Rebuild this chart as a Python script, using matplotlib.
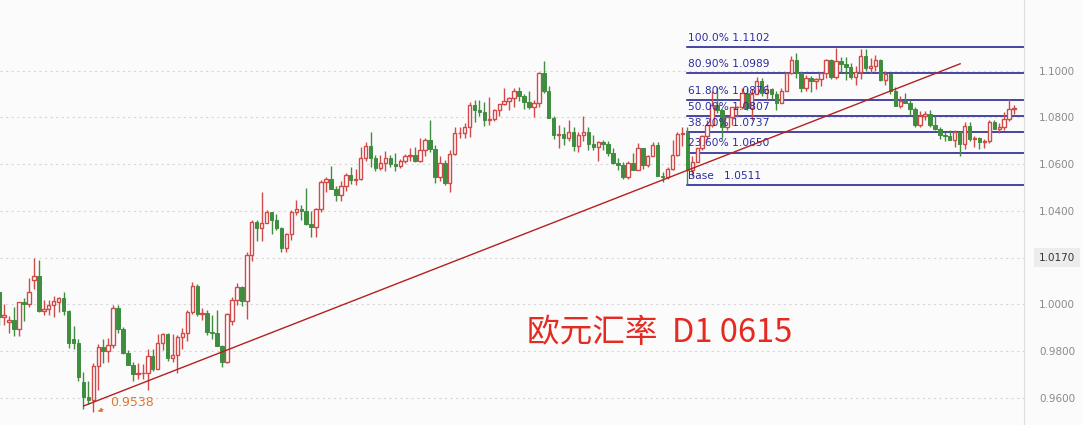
import matplotlib
matplotlib.use("Agg")
import matplotlib.pyplot as plt
from matplotlib.patches import Rectangle

# EUR/USD daily candles, 2022-09-01 .. 2023-06-15
months = ["Sep", "Oct", "Nov", "Dec", "Jan", "Feb", "Mar", "Apr", "May", "Jun"]

opens = [
    # Sep
    1.0054, 0.9944, 0.9925, 0.9932, 0.9896, 1.0010, 1.0001, 1.0105, 1.0122, 0.9970, 0.9980,
    0.9999, 1.0010, 1.0025, 0.9970, 0.9850, 0.9836, 0.9669, 0.9604, 0.9590, 0.9736, 0.9815,
    # Oct
    0.9800, 0.9826, 0.9985, 0.9893, 0.9793, 0.9742, 0.9700, 0.9705, 0.9705, 0.9779, 0.9723,
    0.9836, 0.9874, 0.9772, 0.9784, 0.9859, 0.9875, 0.9965, 1.0079, 0.9960, 0.9964,
    # Nov
    0.9881, 0.9879, 0.9820, 0.9751, 0.9930, 1.0020, 1.0073, 1.0015, 1.0211, 1.0354, 1.0325,
    1.0350, 1.0394, 1.0363, 1.0325, 1.0242, 1.0302, 1.0397, 1.0408, 1.0399, 1.0343, 1.0331,
    # Dec
    1.0406, 1.0523, 1.0535, 1.0493, 1.0466, 1.0507, 1.0554, 1.0531, 1.0537, 1.0628, 1.0680,
    1.0627, 1.0584, 1.0606, 1.0625, 1.0602, 1.0594, 1.0612, 1.0636, 1.0638, 1.0612, 1.0662,
    # Jan
    1.0705, 1.0665, 1.0547, 1.0606, 1.0519, 1.0644, 1.0733, 1.0734, 1.0761, 1.0852, 1.0830,
    1.0822, 1.0790, 1.0795, 1.0831, 1.0856, 1.0870, 1.0885, 1.0915, 1.0890, 1.0867, 1.0847,
    # Feb
    1.0863, 1.0990, 1.0915, 1.0799, 1.0726, 1.0729, 1.0712, 1.0740, 1.0679, 1.0724, 1.0740,
    1.0687, 1.0674, 1.0695, 1.0686, 1.0650, 1.0605, 1.0595, 1.0546, 1.0606,
    # Mar
    1.0575, 1.0668, 1.0596, 1.0635, 1.0682, 1.0548, 1.0546, 1.0580, 1.0640, 1.0730, 1.0733,
    1.0577, 1.0610, 1.0670, 1.0720, 1.0770, 1.0855, 1.0830, 1.0760, 1.0800, 1.0843, 1.0843,
    1.0905,
    # Apr
    1.0839, 1.0902, 1.0955, 1.0903, 1.0920, 1.0900, 1.0860, 1.0915, 1.0990, 1.1045, 1.0990,
    1.0925, 1.0970, 1.0955, 1.0965, 1.0990, 1.1047, 1.0973, 1.1040, 1.1030,
    # May
    1.1018, 1.0975, 1.0997, 1.1063, 1.1014, 1.1020, 1.1045, 1.0962, 1.0985, 1.0913, 1.0850,
    1.0872, 1.0862, 1.0838, 1.0768, 1.0805, 1.0813, 1.0770, 1.0750, 1.0725, 1.0720, 1.0705,
    1.0736,
    # Jun
    1.0688, 1.0763, 1.0709, 1.0713, 1.0693, 1.0699, 1.0781, 1.0750, 1.0760, 1.0795, 1.0835,
]

highs = [
    1.0057, 1.0000, 0.9950, 0.9988, 1.0011, 1.0029, 1.0112, 1.0198, 1.0190, 1.0019, 1.0017,
    1.0036, 1.0030, 1.0051, 0.9977, 0.9906, 0.9852, 0.9711, 0.9670, 0.9750, 0.9830, 0.9853,
    0.9854, 0.9999, 0.9998, 0.9904, 0.9806, 0.9753, 0.9750, 0.9745, 0.9809, 0.9807, 0.9872,
    0.9876, 0.9875, 0.9873, 0.9870, 0.9900, 0.9977, 1.0094, 1.0088, 0.9983, 0.9976,
    0.9953, 0.9975, 0.9825, 0.9964, 1.0033, 1.0093, 1.0079, 1.0223, 1.0363, 1.0362, 1.0481,
    1.0405, 1.0395, 1.0388, 1.0330, 1.0307, 1.0404, 1.0448, 1.0427, 1.0497, 1.0399, 1.0414,
    1.0531, 1.0545, 1.0594, 1.0506, 1.0530, 1.0564, 1.0590, 1.0580, 1.0673, 1.0695, 1.0736,
    1.0640, 1.0640, 1.0658, 1.0638, 1.0650, 1.0622, 1.0643, 1.0668, 1.0673, 1.0713, 1.0714,
    1.0790, 1.0683, 1.0637, 1.0620, 1.0660, 1.0760, 1.0760, 1.0776, 1.0868, 1.0874, 1.0875,
    1.0867, 1.0888, 1.0838, 1.0858, 1.0927, 1.0886, 1.0928, 1.0930, 1.0900, 1.0914, 1.0877,
    1.0997, 1.1040, 1.0937, 1.0808, 1.0766, 1.0759, 1.0790, 1.0760, 1.0740, 1.0805, 1.0760,
    1.0725, 1.0700, 1.0705, 1.0700, 1.0668, 1.0628, 1.0610, 1.0615, 1.0646,
    1.0691, 1.0670, 1.0639, 1.0694, 1.0697, 1.0567, 1.0589, 1.0705, 1.0737, 1.0760, 1.0760,
    1.0635, 1.0670, 1.0725, 1.0788, 1.0912, 1.0930, 1.0838, 1.0803, 1.0845, 1.0850, 1.0925,
    1.0925,
    1.0921, 1.0973, 1.0968, 1.0942, 1.0925, 1.0915, 1.0925, 1.0997, 1.1065, 1.1075, 1.0995,
    1.0980, 1.0978, 1.0970, 1.0990, 1.1049, 1.1050, 1.1096, 1.1060, 1.1058,
    1.1035, 1.1020, 1.1092, 1.1092, 1.1055, 1.1068, 1.1050, 1.1000, 1.0986, 1.0930, 1.0894,
    1.0904, 1.0875, 1.0847, 1.0829, 1.0827, 1.0830, 1.0805, 1.0760, 1.0736, 1.0746, 1.0746,
    1.0742,
    1.0780, 1.0780, 1.0720, 1.0718, 1.0710, 1.0790, 1.0790, 1.0778, 1.0823, 1.0878, 1.0855,
]

lows = [
    0.9910, 0.9912, 0.9877, 0.9864, 0.9864, 0.9930, 0.9990, 1.0067, 0.9966, 0.9955, 0.9956,
    0.9944, 0.9967, 0.9955, 0.9814, 0.9807, 0.9670, 0.9553, 0.9575, 0.9538, 0.9632, 0.9749,
    0.9752, 0.9812, 0.9876, 0.9788, 0.9742, 0.9670, 0.9680, 0.9680, 0.9632, 0.9715, 0.9723,
    0.9806, 0.9758, 0.9755, 0.9705, 0.9807, 0.9843, 0.9960, 0.9950, 0.9934, 0.9870,
    0.9853, 0.9820, 0.9730, 0.9747, 0.9910, 0.9997, 0.9992, 0.9935, 1.0186, 1.0270, 1.0273,
    1.0347, 1.0300, 1.0320, 1.0222, 1.0225, 1.0275, 1.0382, 1.0360, 1.0340, 1.0290, 1.0288,
    1.0397, 1.0480, 1.0493, 1.0443, 1.0441, 1.0484, 1.0514, 1.0512, 1.0532, 1.0614, 1.0590,
    1.0573, 1.0576, 1.0571, 1.0590, 1.0573, 1.0584, 1.0605, 1.0613, 1.0610, 1.0609, 1.0634,
    1.0653, 1.0519, 1.0527, 1.0510, 1.0483, 1.0640, 1.0714, 1.0712, 1.0717, 1.0780, 1.0805,
    1.0765, 1.0767, 1.0787, 1.0805, 1.0852, 1.0833, 1.0845, 1.0872, 1.0836, 1.0835, 1.0800,
    1.0844, 1.0907, 1.0796, 1.0710, 1.0669, 1.0683, 1.0700, 1.0656, 1.0654, 1.0701, 1.0660,
    1.0660, 1.0612, 1.0660, 1.0634, 1.0600, 1.0575, 1.0535, 1.0535, 1.0575,
    1.0575, 1.0580, 1.0590, 1.0635, 1.0548, 1.0524, 1.0537, 1.0577, 1.0633, 1.0680, 1.0516,
    1.0551, 1.0610, 1.0660, 1.0702, 1.0760, 1.0820, 1.0712, 1.0745, 1.0770, 1.0800, 1.0835,
    1.0832,
    1.0788, 1.0900, 1.0893, 1.0875, 1.0878, 1.0834, 1.0860, 1.0915, 1.0985, 1.0969, 1.0910,
    1.0915, 1.0910, 1.0920, 1.0935, 1.0970, 1.0965, 1.0965, 1.0995, 1.0962,
    1.0967, 1.0940, 1.0966, 1.0998, 1.0990, 1.1000, 1.0955, 1.0940, 1.0900, 1.0850, 1.0842,
    1.0860, 1.0810, 1.0760, 1.0760, 1.0790, 1.0760, 1.0747, 1.0710, 1.0700, 1.0705, 1.0674,
    1.0635,
    1.0665, 1.0700, 1.0675, 1.0667, 1.0670, 1.0690, 1.0750, 1.0732, 1.0746, 1.0786, 1.0815,
]

closes = [
    0.9944, 0.9955, 0.9932, 0.9896, 1.0010, 1.0001, 1.0052, 1.0122, 0.9970, 0.9980, 0.9999,
    1.0014, 1.0025, 0.9970, 0.9836, 0.9836, 0.9690, 0.9604, 0.9590, 0.9736, 0.9815, 0.9800,
    0.9826, 0.9985, 0.9893, 0.9793, 0.9742, 0.9700, 0.9705, 0.9705, 0.9779, 0.9723, 0.9836,
    0.9874, 0.9772, 0.9784, 0.9859, 0.9875, 0.9965, 1.0079, 0.9960, 0.9964, 0.9881,
    0.9879, 0.9820, 0.9751, 0.9958, 1.0020, 1.0073, 1.0015, 1.0211, 1.0354, 1.0325, 1.0350,
    1.0394, 1.0363, 1.0325, 1.0242, 1.0302, 1.0397, 1.0408, 1.0399, 1.0343, 1.0331, 1.0406,
    1.0523, 1.0535, 1.0493, 1.0466, 1.0507, 1.0554, 1.0531, 1.0537, 1.0628, 1.0680, 1.0627,
    1.0584, 1.0606, 1.0625, 1.0602, 1.0594, 1.0612, 1.0636, 1.0638, 1.0612, 1.0662, 1.0705,
    1.0665, 1.0547, 1.0606, 1.0519, 1.0644, 1.0733, 1.0734, 1.0761, 1.0852, 1.0830, 1.0822,
    1.0790, 1.0795, 1.0831, 1.0856, 1.0870, 1.0885, 1.0915, 1.0890, 1.0867, 1.0847, 1.0863,
    1.0990, 1.0915, 1.0799, 1.0726, 1.0729, 1.0712, 1.0740, 1.0679, 1.0724, 1.0740, 1.0687,
    1.0674, 1.0695, 1.0686, 1.0650, 1.0605, 1.0595, 1.0546, 1.0606, 1.0575,
    1.0668, 1.0596, 1.0635, 1.0682, 1.0548, 1.0546, 1.0580, 1.0640, 1.0730, 1.0733, 1.0577,
    1.0610, 1.0670, 1.0720, 1.0770, 1.0855, 1.0830, 1.0760, 1.0800, 1.0843, 1.0843, 1.0905,
    1.0839,
    1.0902, 1.0955, 1.0903, 1.0920, 1.0900, 1.0860, 1.0915, 1.0990, 1.1045, 1.0990, 1.0925,
    1.0970, 1.0955, 1.0965, 1.0990, 1.1047, 1.0973, 1.1040, 1.1030, 1.1018,
    1.0975, 1.0997, 1.1063, 1.1014, 1.1020, 1.1045, 1.0962, 1.0985, 1.0913, 1.0850, 1.0872,
    1.0862, 1.0838, 1.0768, 1.0805, 1.0813, 1.0770, 1.0750, 1.0725, 1.0720, 1.0705, 1.0736,
    1.0688,
    1.0763, 1.0709, 1.0713, 1.0693, 1.0699, 1.0781, 1.0750, 1.0760, 1.0795, 1.0835, 1.0840,
]

# Fibonacci retracement (anchored on the 2023-03-15 candle)
fib_labels = ["100.0%", "80.90%", "61.80%", "50.00%", "38.20%", "23.60%", "Base  "]
fib_prices = [1.1102, 1.0989, 1.0876, 1.0807, 1.0737, 1.0650, 1.0511]
fib_start = 139

# trendline from the 0.9538 low (candle index, price)
trend_x = [17.1, 194.1]
trend_y = [0.9565, 1.1030]
low_idx, low_price = 19, 0.9538

ticks = [0.96, 0.98, 1.00, 1.02, 1.04, 1.06, 1.08, 1.10]
marker_price = "1.0170"

UP = "#d04a4a"
DOWN = "#3f8e3f"
BG = "#fbfbfb"

fig = plt.figure(figsize=(10.83, 4.25), dpi=100, facecolor=BG)
ax = fig.add_axes([0, 0, 1024 / 1083, 1])
ax.set_facecolor(BG)

# candles
w = 0.7
for i, (o, h, l, c) in enumerate(zip(opens, highs, lows, closes)):
    top, bot = max(o, c), min(o, c)
    if c >= o:
        ax.vlines(i, top, h, color=UP, lw=1.0, zorder=3)
        ax.vlines(i, l, bot, color=UP, lw=1.0, zorder=3)
        ax.add_patch(Rectangle((i - w / 2, bot), w, max(top - bot, 0.0002),
                               facecolor="white", edgecolor=UP, lw=1.0, zorder=3))
    else:
        ax.vlines(i, l, h, color=DOWN, lw=1.0, zorder=3)
        ax.add_patch(Rectangle((i - w / 2, bot), w, max(top - bot, 0.0002),
                               facecolor=DOWN, edgecolor=DOWN, lw=0.7, zorder=3))

# fib levels
for lab, p in zip(fib_labels, fib_prices):
    ax.plot([fib_start, 300], [p, p], color="#15158a", lw=1.1, zorder=2)
    ax.annotate(f"{lab} {p:.4f}", (fib_start, p), xytext=(0.5, 3), textcoords="offset points",
                fontsize=7.7, color="#2c2ca0", va="bottom", ha="left", zorder=4)

# trendline + low marker
ax.plot(trend_x, trend_y, color="#b52020", lw=1.0, zorder=4)
ax.annotate("", xy=(low_idx + 0.3, low_price), xytext=(low_idx + 2.5, low_price + 0.0015),
            arrowprops=dict(arrowstyle="-|>", color="#e0782e", lw=0.8, ls="--",
                            mutation_scale=6), zorder=5)
ax.text(low_idx + 3.4, low_price + 0.0040, f"{low_price:.4f}", color="#e0782e",
        fontsize=9, va="center", ha="left", zorder=5)

ax.text(527 / 1024, 1 - 333 / 425, "欧元汇率  D1 0615", transform=ax.transAxes,
        fontsize=23.5, color="#e52a22", va="center", ha="left",
        family=["Noto Sans CJK SC", "DejaVu Sans"])

# axes / grid
ax.set_xlim(0.15, 207.0)
ax.set_ylim(1.1 - 354.2 / 2335, 1.1 + 70.8 / 2335)
ax.set_yticks(ticks)
ax.set_yticklabels(["" if abs(t - 1.02) < 1e-9 else f"{t:.4f}" for t in ticks])
ax.yaxis.tick_right()
ax.tick_params(axis="y", length=0, pad=11, labelsize=7.5, labelcolor="#8a8a8a")
ax.set_xticks([])
ax.grid(axis="y", color="#d6d6d6", lw=0.8, linestyle=(0, (2, 3)))
for s in ["top", "left", "bottom"]:
    ax.spines[s].set_visible(False)
ax.spines["right"].set_color("#dedede")

# current-price style marker on the right scale
ax.text(1.0 + 15 / 1024, 1.0200, marker_price, transform=ax.get_yaxis_transform(),
        fontsize=7.5, color="#333333", va="center", ha="left", clip_on=False, zorder=6,
        bbox=dict(boxstyle="square,pad=0.45", facecolor="#ececec", edgecolor="none"))

fig.savefig("out.png", dpi=100, facecolor=BG)
